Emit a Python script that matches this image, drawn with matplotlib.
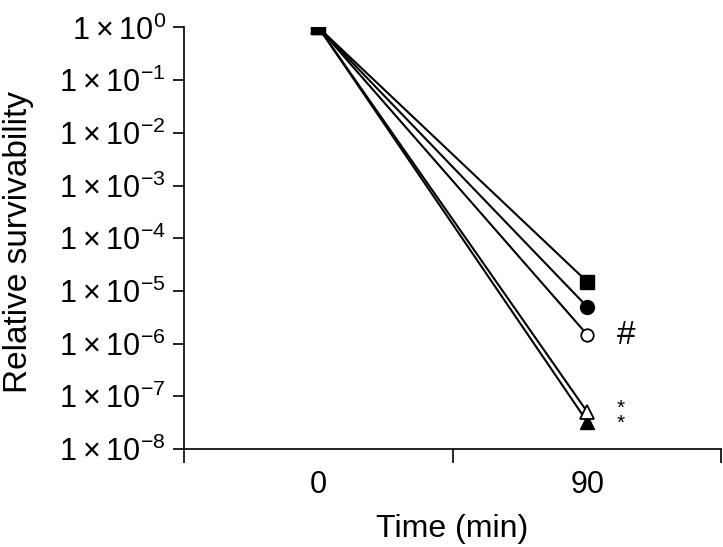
import matplotlib
matplotlib.use("Agg")
import matplotlib.pyplot as plt
import numpy as np

plt.rcParams['font.family'] = ['Liberation Sans', 'DejaVu Sans']
plt.rcParams['mathtext.fontset'] = 'custom'
plt.rcParams['mathtext.rm'] = 'Liberation Sans'
plt.rcParams['mathtext.it'] = 'Liberation Sans'

# data
times = [0, 90]
sq_filled = [1.0, 1.48e-5]
circ_filled = [1.0, 4.95e-6]
circ_open = [1.0, 1.46e-6]
tri_open = [1.0, 5.0e-8]
tri_filled = [1.0, 3.25e-8]
exponents = [0, -1, -2, -3, -4, -5, -6, -7, -8]

fig = plt.figure(figsize=(7.23, 5.47), dpi=100)
ax = fig.add_axes([184 / 723, 1 - 449 / 547, (721 - 184) / 723, (449 - 27.4) / 547])

lw = 1.5
ax.plot(times, tri_filled, color='black', lw=lw, marker='^', ms=10, mfc='black', mec='black', zorder=3)
ax.plot(times, tri_open, color='black', lw=lw, marker='^', ms=10, mfc='white', mec='black', mew=1.3, zorder=4)
ax.plot(times, circ_open, color='black', lw=lw, marker='o', ms=9, mfc='white', mec='black', mew=1.3, zorder=3)
ax.plot(times, circ_filled, color='black', lw=lw, marker='o', ms=10, mfc='black', mec='black', zorder=3)
ax.plot(times, sq_filled, color='black', lw=lw, marker='s', ms=10, mfc='black', mec='black', zorder=5)

ax.set_yscale('log')
ax.set_ylim(1e-8, 1e0)
ax.set_xlim(-45, 134.7)

ax.set_yticks([10.0 ** e for e in exponents])
ax.set_yticklabels(['1\u2009\u00d7\u200910$^{%s}$' % (str(e).replace('-', '\u2212')) for e in exponents])
ax.yaxis.set_minor_locator(matplotlib.ticker.NullLocator())

ax.set_xticks([-45, 45, 134.7])
ax.set_xticklabels(['', '', ''])
ax.set_xticks(times, minor=True)
ax.set_xticklabels([str(t) for t in times], minor=True)
ax.tick_params(axis='x', which='minor', length=0, pad=15, labelsize=22)
ax.tick_params(axis='x', which='major', length=10, width=1.2, direction='out')
ax.tick_params(axis='y', which='major', length=8, width=1.2, direction='out', labelsize=22, pad=5)

for s in ['top', 'right']:
    ax.spines[s].set_visible(False)
for s in ['left', 'bottom']:
    ax.spines[s].set_linewidth(1.2)

ax.set_xlabel('Time (min)', fontsize=23, labelpad=10)
ax.set_ylabel('Relative survivability', fontsize=24)
ax.yaxis.set_label_coords((34 - 184) / 537, 0.49)

ax.text(103, 1.4e-6, '#', fontsize=24, ha='center', va='center')
# the two asterisks for the triangle series, stacked in one text
ax.text(101, 4.3e-8, '*\n*', fontsize=15, ha='center', va='center', linespacing=0.75)

fig.savefig('out.png', dpi=100)
